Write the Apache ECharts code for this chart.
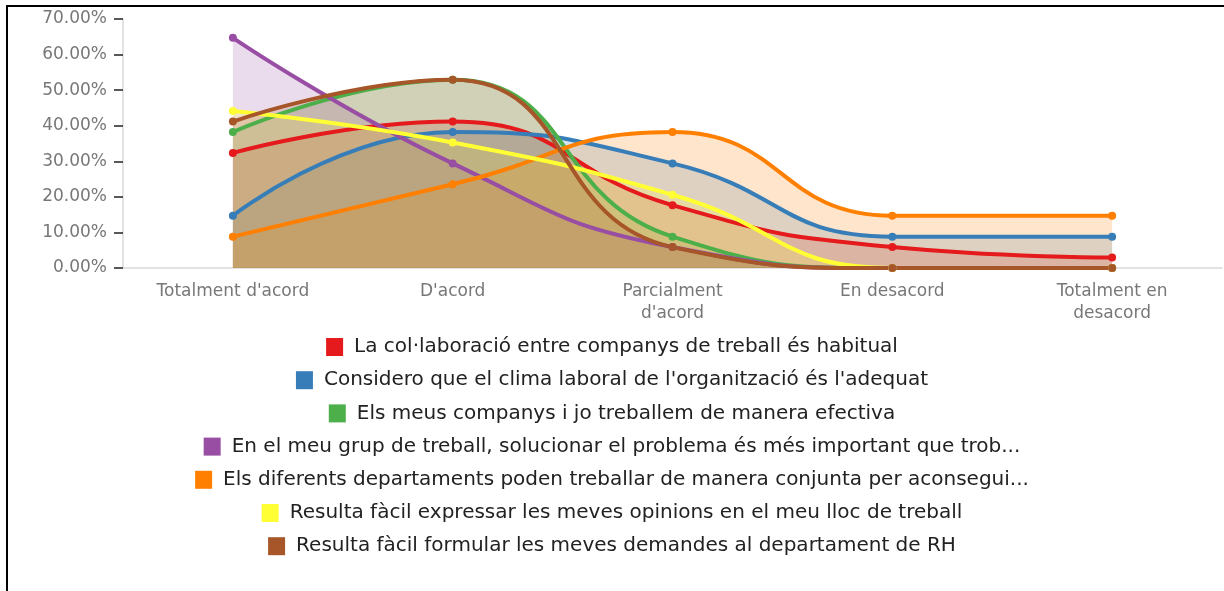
<!DOCTYPE html>
<html>
<head>
<meta charset="utf-8">
<script src="https://cdn.jsdelivr.net/npm/echarts@6/dist/echarts.min.js"></script>
<style>
  body { margin: 0; background: #fff; }
  #frame { position: absolute; left: 6px; top: 5px; width: 1230px; height: 600px; border-top: 2px solid #000; border-left: 2px solid #000; }
  #myChart { position: absolute; left: 0; top: 0; width: 1224px; height: 591px; }
</style>
</head>
<body>
<div id="frame"></div>
<div id="myChart"></div>
<script>
  // categories (x axis)
  const categories = ["Totalment d'acord", "D'acord", "Parcialment\nd'acord", "En desacord", "Totalment en\ndesacord"];
  const yTicks = [0, 10, 20, 30, 40, 50, 60, 70];

  const seriesNames = [
    "La col·laboració entre companys de treball és habitual",
    "Considero que el clima laboral de l'organització és l'adequat",
    "Els meus companys i jo treballem de manera efectiva",
    "En el meu grup de treball, solucionar el problema és més important que trob...",
    "Els diferents departaments poden treballar de manera conjunta per aconsegui...",
    "Resulta fàcil expressar les meves opinions en el meu lloc de treball",
    "Resulta fàcil formular les meves demandes al departament de RH"
  ];

  // percentages
  const collaboracio = [32.35, 41.18, 17.65, 5.88, 2.94];
  const climaLaboral = [14.71, 38.24, 29.41, 8.82, 8.82];
  const efectiva = [38.24, 52.94, 8.82, 0, 0];
  const grupTreball = [64.71, 29.41, 5.88, 0, 0];
  const departaments = [8.82, 23.53, 38.24, 14.71, 14.71];
  const opinions = [44.12, 35.29, 20.59, 0, 0];
  const demandesRH = [41.18, 52.94, 5.88, 0, 0];

  const values = [collaboracio, climaLaboral, efectiva, grupTreball, departaments, opinions, demandesRH];
  const colors = ['#e41a1c', '#377eb8', '#4daf4a', '#984ea3', '#ff7f00', '#ffff33', '#a65628'];

  const chart = echarts.init(document.getElementById('myChart'));

  // one legend per row so every row is centred on its own
  const legends = seriesNames.map((name, i) => ({
    data: [name],
    left: 'center',
    top: 332 + i * 33.2,
    icon: 'rect',
    itemWidth: 17,
    itemHeight: 18,
    selectedMode: false,
    textStyle: { fontSize: 20, color: '#222', fontFamily: 'DejaVu Sans', padding: [0, 0, 0, 6] }
  }));

  const option = {
    animation: false,
    color: colors,
    legend: legends,
    grid: { left: 123, right: 2, top: 19, bottom: 323, containLabel: false },
    xAxis: {
      type: 'category',
      data: categories,
      boundaryGap: true,
      axisLine: { lineStyle: { color: '#d9d9d9', width: 1.5 } },
      axisTick: { length: 9, lineStyle: { color: '#222', width: 1.5 } },
      axisLabel: { fontSize: 17, color: '#777', margin: 13, lineHeight: 22, fontFamily: 'DejaVu Sans' }
    },
    yAxis: {
      type: 'value',
      min: yTicks[0],
      max: yTicks[yTicks.length - 1],
      interval: 10,
      axisLine: { show: true, lineStyle: { color: '#d9d9d9', width: 1.5 } },
      axisTick: { show: true, length: 9, lineStyle: { color: '#222', width: 1.5 } },
      splitLine: { show: false },
      axisLabel: {
        fontSize: 17, color: '#777', margin: 16, fontFamily: 'DejaVu Sans',
        formatter: v => v.toFixed(2) + '%'
      }
    },
    series: seriesNames.map((name, i) => ({
      name: name,
      type: 'line',
      data: values[i],
      smooth: true,
      symbol: 'circle',
      symbolSize: 8,
      lineStyle: { width: 4, color: colors[i] },
      itemStyle: { color: colors[i] },
      areaStyle: { color: colors[i], opacity: 0.2 }
    }))
  };
  chart.setOption(option);
</script>
</body>
</html>
